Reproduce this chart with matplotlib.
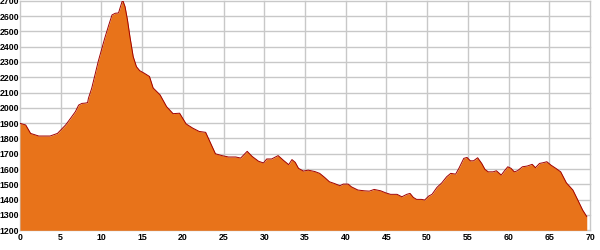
import matplotlib
matplotlib.use("Agg")
import matplotlib.pyplot as plt

km = [0.0, 0.7, 1.3, 2.3, 3.7, 4.6, 5.2, 5.6, 6.2, 6.8, 7.2, 7.6, 8.0, 8.3, 8.4, 8.8,
      9.2, 9.6, 10.0, 10.4, 10.9, 11.3, 11.7, 12.1, 12.4, 12.6, 12.9, 13.2, 13.5, 13.9,
      14.3, 14.7, 15.3, 15.9, 16.35, 17.2, 18.0, 18.8, 19.6, 20.4, 21.2, 22.0, 22.8,
      23.4, 24.0, 24.8, 25.6, 26.5, 27.1, 27.9, 28.5, 29.3, 29.9, 30.3, 30.9, 31.7,
      32.4, 33.0, 33.4, 33.8, 34.2, 34.8, 35.4, 36.2, 36.8, 37.4, 38.0, 38.6, 39.3,
      39.7, 40.3, 40.7, 41.5, 42.3, 42.9, 43.5, 44.3, 44.9, 45.5, 46.3, 46.9, 47.5,
      47.9, 48.3, 48.7, 49.3, 49.7, 50.2, 50.6, 51.2, 51.8, 52.4, 52.9, 53.5, 53.9,
      54.5, 54.9, 55.3, 55.7, 56.2, 56.7, 57.1, 57.5, 58.1, 58.5, 59.1, 59.5, 59.9,
      60.3, 60.7, 61.1, 61.7, 62.3, 62.9, 63.3, 63.8, 64.2, 64.7, 65.2, 65.8, 66.4,
      67.1, 67.9, 68.5, 69.1, 69.6]
elev = [1899, 1888, 1833, 1816, 1816, 1833, 1866, 1888, 1931, 1975, 2018, 2029, 2031,
        2034, 2062, 2127, 2214, 2302, 2378, 2454, 2541, 2607, 2618, 2620, 2672, 2705,
        2661, 2574, 2465, 2335, 2269, 2243, 2225, 2205, 2130, 2085, 2008, 1962, 1965,
        1895, 1868, 1846, 1840, 1770, 1700, 1688, 1679, 1679, 1672, 1716, 1683, 1651,
        1640, 1666, 1666, 1688, 1655, 1629, 1662, 1644, 1605, 1587, 1593, 1584, 1572,
        1546, 1517, 1506, 1491, 1502, 1502, 1484, 1463, 1458, 1456, 1467, 1458, 1445,
        1435, 1435, 1419, 1435, 1441, 1415, 1402, 1402, 1398, 1424, 1435, 1480, 1510,
        1550, 1572, 1567, 1605, 1670, 1676, 1654, 1654, 1674, 1637, 1598, 1582, 1582,
        1589, 1561, 1589, 1615, 1605, 1582, 1589, 1615, 1620, 1631, 1609, 1637, 1641,
        1648, 1626, 1605, 1582, 1510, 1463, 1398, 1332, 1290]

x_ticks = [0, 5, 10, 15, 20, 25, 30, 35, 40, 45, 50, 55, 60, 65, 70]
y_ticks = [1200, 1300, 1400, 1500, 1600, 1700, 1800, 1900, 2000, 2100, 2200, 2300,
           2400, 2500, 2600, 2700]

fig = plt.figure(figsize=(6, 2.5), dpi=100)
ax = fig.add_axes([20 / 600, 1 - 230.3 / 250, 570 / 600, 229.6 / 250])
ax.fill_between(km, elev, 1200, color="#E8731A", linewidth=0, zorder=2)
ax.plot(km, elev, color="#A00000", linewidth=0.7, zorder=3)
ax.set_xlim(0, 70)
ax.set_ylim(1200, 2700)
ax.set_xticks(x_ticks)
ax.set_yticks(y_ticks)
ax.set_xticklabels([str(t) for t in x_ticks])
ax.set_yticklabels([str(t) for t in y_ticks])
ax.grid(True, color="#C8C8C8", linewidth=1, zorder=0)
ax.set_axisbelow(True)
for s in ax.spines.values():
    s.set_visible(False)
for gl in ax.get_xgridlines() + ax.get_ygridlines():
    gl.set_clip_on(False)
ax.tick_params(axis="y", length=0, pad=0.5)
ax.tick_params(axis="x", length=0, pad=2)
for lab in ax.get_xticklabels() + ax.get_yticklabels():
    lab.set_fontfamily("Liberation Sans")
    lab.set_fontsize(6.3)
    lab.set_fontweight("bold")
fig.savefig("out.png", dpi=100)
